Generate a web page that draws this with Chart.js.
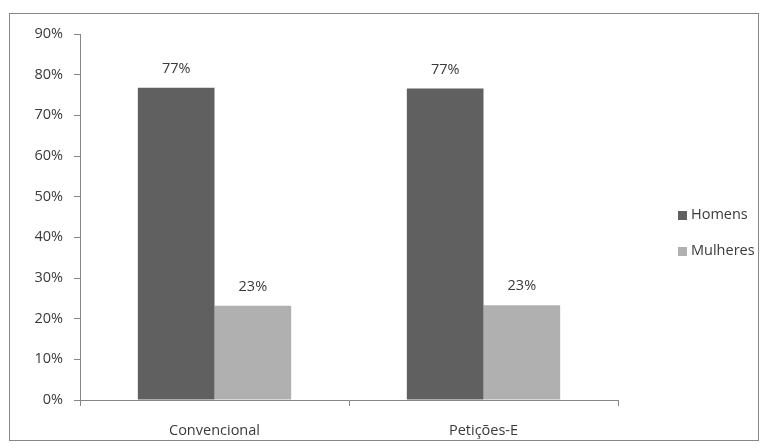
<!DOCTYPE html>
<html>
<head>
<meta charset="utf-8">
<script src="https://cdn.jsdelivr.net/npm/chart.js@4/dist/chart.umd.min.js"></script>
<style>
  html, body { margin: 0; padding: 0; background: #fff; }
  #wrap { position: relative; width: 768px; height: 448px; }
  #frame { position: absolute; left: 9px; top: 13px; width: 748px; height: 426px; border: 1px solid #868686; pointer-events: none; }
</style>
</head>
<body>
<div id="wrap">
  <canvas id="chart" width="768" height="448"></canvas>
  <div id="frame"></div>
</div>
<script>
const categories = ['Convencional', 'Petições-E'];
const homens = [76.8, 76.6];
const mulheres = [23.2, 23.3];
const yTicks = [0, 10, 20, 30, 40, 50, 60, 70, 80, 90];

const FONT = '"Open Sans", sans-serif';
const FSIZE = 14.5;

// value labels above bars
const valueLabels = {
    id: 'valueLabels',
    afterDatasetsDraw(chart) {
        const ctx = chart.ctx;
        ctx.save();
        ctx.font = FSIZE + 'px ' + FONT;
        ctx.fillStyle = '#3a3a3a';
        ctx.textAlign = 'center';
        ctx.textBaseline = 'middle';
        chart.data.datasets.forEach((ds, i) => {
            chart.getDatasetMeta(i).data.forEach((bar, j) => {
                ctx.fillText(Math.round(ds.data[j]) + '%', bar.x, bar.y - 19);
            });
        });
        ctx.restore();
    }
};

// legend at the right, drawn from the datasets
const sideLegend = {
    id: 'sideLegend',
    afterDraw(chart) {
        const ctx = chart.ctx;
        ctx.save();
        ctx.font = FSIZE + 'px ' + FONT;
        ctx.textBaseline = 'middle';
        chart.data.datasets.forEach((ds, i) => {
            const y = 215 + i * 36;
            ctx.fillStyle = ds.backgroundColor;
            ctx.fillRect(678, y - 4, 9, 9);
            ctx.fillStyle = '#3a3a3a';
            ctx.fillText(ds.label, 691, y);
        });
        ctx.restore();
    }
};

new Chart(document.getElementById('chart'), {
    type: 'bar',
    data: {
        labels: categories,
        datasets: [
            { label: 'Homens', data: homens, backgroundColor: '#606060' },
            { label: 'Mulheres', data: mulheres, backgroundColor: '#b0b0b0' }
        ]
    },
    options: {
        responsive: false,
        animation: false,
        devicePixelRatio: 1,
        layout: { padding: { left: 0, right: 150, top: 34, bottom: 0 } },
        datasets: { bar: { categoryPercentage: 0.57, barPercentage: 1 } },
        plugins: {
            legend: { display: false },
            tooltip: { enabled: false }
        },
        scales: {
            y: {
                min: 0,
                max: 90,
                afterFit(scale) { scale.width = 80; },
                afterBuildTicks(scale) { scale.ticks = yTicks.map(v => ({ value: v })); },
                ticks: {
                    color: '#3a3a3a',
                    font: { family: FONT, size: FSIZE },
                    padding: 11,
                    callback: v => v + '%'
                },
                grid: { drawOnChartArea: false, tickLength: 6, color: '#868686' },
                border: { color: '#868686' }
            },
            x: {
                afterFit(scale) { scale.height = 48; },
                ticks: {
                    color: '#3a3a3a',
                    font: { family: FONT, size: FSIZE },
                    padding: 16
                },
                grid: { drawOnChartArea: false, tickLength: 6, color: '#868686' },
                border: { color: '#868686' }
            }
        }
    },
    plugins: [valueLabels, sideLegend]
});
</script>
</body>
</html>
